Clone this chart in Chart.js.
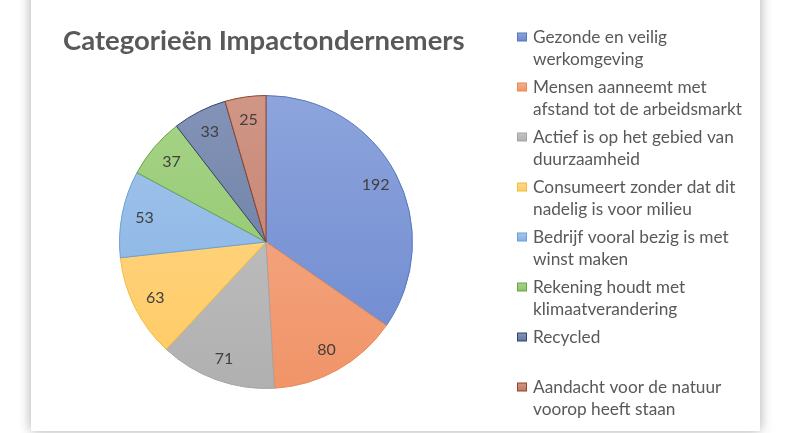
<!DOCTYPE html>
<html>
<head>
<meta charset="utf-8">
<script src="https://cdn.jsdelivr.net/npm/chart.js@4.4.0/dist/chart.umd.min.js"></script>
<style>
  html, body { margin: 0; padding: 0; background: #ffffff; width: 795px; height: 433px; overflow: hidden; }
  #card { position: absolute; left: 31px; top: -20px; width: 729px; height: 451px; background: #fff;
          box-shadow: 0 0 12px rgba(0,0,0,0.33); }
  #wrap { position: absolute; left: 0; top: 0; width: 795px; height: 433px; }
</style>
</head>
<body>
<div id="card"></div>
<div id="wrap"><canvas id="c" width="795" height="433"></canvas></div>
<script>
// ---- data ----
const titleText = "Categorieën Impactondernemers";
const categories = [
  ["Gezonde en veilig", "werkomgeving"],
  ["Mensen aanneemt met", "afstand tot de arbeidsmarkt"],
  ["Actief is op het gebied van", "duurzaamheid"],
  ["Consumeert zonder dat dit", "nadelig is voor milieu"],
  ["Bedrijf vooral bezig is met", "winst maken"],
  ["Rekening houdt met", "klimaatverandering"],
  ["Recycled"],
  ["Aandacht voor de natuur", "voorop heeft staan"]
];
const values = [192, 80, 71, 63, 53, 37, 33, 25];

// ---- styles ----
const fillTop    = ["#8DA4DC", "#F6AF8F", "#C6C6C6", "#FFD98F", "#A3C6EC", "#A7D488", "#8494B8", "#D09686"];
const fillBottom = ["#6C89CF", "#F19468", "#B0B0B0", "#FFCA62", "#84B0E3", "#8AC366", "#64769E", "#BF7A66"];
const borderCols = ["#5676BE", "#E88A58", "#A4A4A4", "#F0BC3A", "#6A9FD6", "#6AA345", "#33456C", "#934428"];
const textColor = "#595959";
const labelColor = "#404040";

function fitFont(ctx, weight, family, text, target) {
  let size = 10;
  for (let s = 10; s <= 40; s += 0.25) {
    ctx.font = weight + " " + s + "px " + family;
    if (ctx.measureText(text).width <= target) size = s; else break;
  }
  return size;
}

const decor = {
  id: "decor",
  afterDraw(chart) {
    const ctx = chart.ctx;
    ctx.save();
    // title
    const tSize = fitFont(ctx, "bold", "Lato", titleText, 402);
    ctx.font = "bold " + tSize + "px Lato";
    ctx.fillStyle = textColor;
    ctx.textBaseline = "alphabetic";
    ctx.textAlign = "left";
    ctx.fillText(titleText, 63, 50);

    // data labels
    const meta = chart.getDatasetMeta(0);
    ctx.font = "16px Lato";
    ctx.fillStyle = labelColor;
    ctx.textAlign = "center";
    ctx.textBaseline = "middle";
    meta.data.forEach((arc, i) => {
      const p = arc.getProps(["x", "y", "startAngle", "endAngle", "outerRadius"], true);
      const mid = (p.startAngle + p.endAngle) / 2;
      const r = p.outerRadius * 0.845;
      ctx.fillText(String(values[i]), p.x + Math.cos(mid) * r, p.y + Math.sin(mid) * r);
    });

    // legend
    const lSize = fitFont(ctx, "normal", "Lato", "afstand tot de arbeidsmarkt", 209);
    ctx.font = lSize + "px Lato";
    ctx.textAlign = "left";
    ctx.textBaseline = "middle";
    categories.forEach((lines, i) => {
      const y0 = 37 + i * 50;
      const g = ctx.createLinearGradient(0, y0 - 4, 0, y0 + 4);
      g.addColorStop(0, fillTop[i]); g.addColorStop(1, fillBottom[i]);
      ctx.fillStyle = g;
      ctx.fillRect(517.5, y0 - 4, 9, 8);
      ctx.strokeStyle = borderCols[i];
      ctx.lineWidth = 1;
      ctx.strokeRect(517.5, y0 - 4, 9, 8);
      ctx.fillStyle = textColor;
      lines.forEach((ln, j) => ctx.fillText(ln, 533, y0 + j * 22.5));
    });
    ctx.restore();
  }
};

const chart = new Chart(document.getElementById("c"), {
  type: "pie",
  data: {
    labels: categories.map(l => l.join(" ")),
    datasets: [{
      data: values,
      backgroundColor: (ctx) => {
        const ca = ctx.chart.chartArea;
        if (!ca) return fillTop[ctx.dataIndex];
        const g = ctx.chart.ctx.createLinearGradient(0, ca.top, 0, ca.bottom);
        g.addColorStop(0, fillTop[ctx.dataIndex]);
        g.addColorStop(1, fillBottom[ctx.dataIndex]);
        return g;
      },
      borderColor: borderCols,
      borderWidth: 1
    }]
  },
  options: {
    responsive: false,
    animation: false,
    layout: { padding: { left: 119, right: 382, top: 95, bottom: 44 } },
    plugins: { legend: { display: false }, tooltip: { enabled: false }, title: { display: false } }
  },
  plugins: [decor]
});
</script>
</body>
</html>
